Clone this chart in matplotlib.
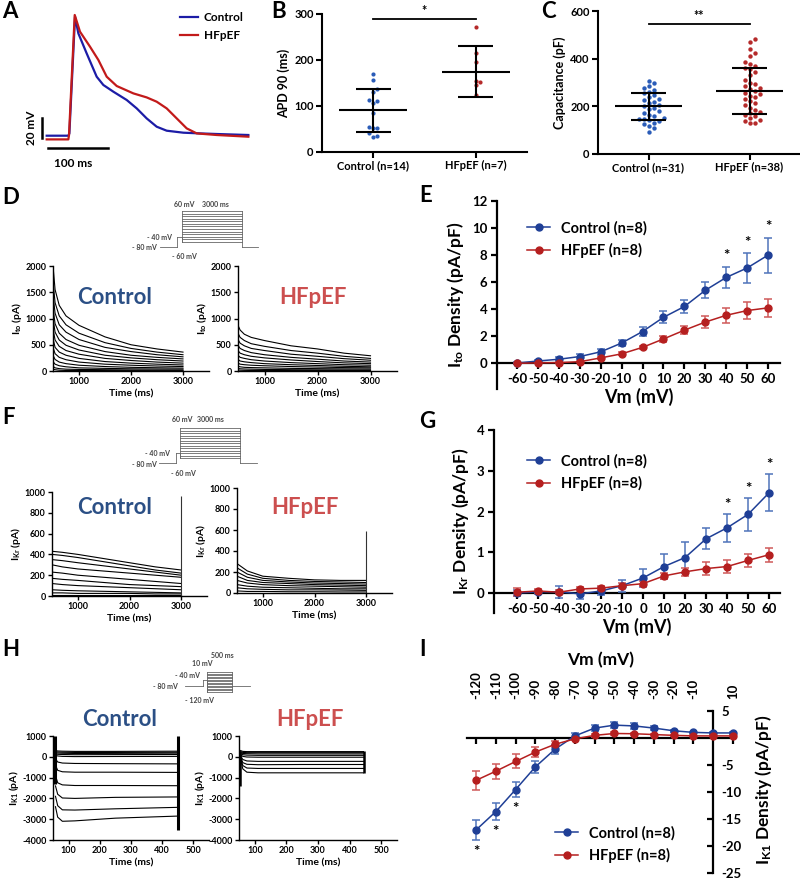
import numpy as np
import matplotlib
matplotlib.use('Agg')
import matplotlib.pyplot as plt
from matplotlib.lines import Line2D

plt.rcParams['font.family'] = ['Lato', 'DejaVu Sans']
plt.rcParams['font.weight'] = 'bold'
plt.rcParams['axes.labelweight'] = 'bold'
plt.rcParams['axes.unicode_minus'] = False
plt.rcParams['mathtext.fontset'] = 'custom'
plt.rcParams['mathtext.rm'] = 'Lato:bold'
plt.rcParams['mathtext.bf'] = 'Lato:bold'
plt.rcParams['mathtext.it'] = 'Lato:bold'

# ---------------- DATA ----------------
# A: action potentials (time ms, voltage mV)
ap_ctrl_t = [0, 35.7, 37.4, 46.7, 52.2, 65.9, 82.4, 93.4, 109.9, 131.9, 148.4, 164.8, 181.3, 197.8, 225.3, 252.7, 280.2, 332.4]
ap_ctrl_v = [-79, -79, -76.7, 40, 23.3, 3.3, -20, -28.3, -35, -43.3, -51.7, -61.7, -70, -74, -76, -76.7, -77.3, -78.3]
ap_hf_t = [0, 35.7, 36.8, 46.2, 54.9, 71.4, 85.2, 98.9, 115.4, 142.9, 164.8, 181.3, 197.8, 214.3, 230.8, 247.3, 280.2, 332.4]
ap_hf_v = [-82.7, -82.7, -78.3, 41.7, 25, 10, -3.3, -20, -29.3, -36.7, -40.7, -45, -51.7, -61.7, -71.7, -76.7, -78.3, -80]

# B: APD90
groups_B = ['Control (n=14)', 'HFpEF (n=7)']
apd_ctrl = [169, 156, 138, 131, 113, 111, 107, 84, 54, 53, 52, 41, 34, 33]
apd_hf = [272, 216, 196, 154, 152, 145, 123]
apd_mean = [91, 175]
apd_sd = [47, 56]

# C: capacitance
groups_C = ['Control (n=31)', 'HFpEF (n=38)']
cap_ctrl = [307, 296, 285, 278, 270, 262, 255, 248, 240, 232, 225, 218, 212, 205, 200, 195, 188, 180,
            172, 165, 160, 152, 148, 145, 142, 138, 132, 125, 118, 108, 92]
cap_hf = [482, 470, 440, 422, 410, 385, 378, 370, 362, 355, 345, 330, 310, 300, 292, 285, 278, 272, 265,
          258, 250, 245, 238, 230, 222, 215, 205, 195, 185, 178, 172, 165, 158, 150, 142, 138, 132, 128]
cap_mean = [200, 265]
cap_sd = [58, 96]

# D: Ito traces (pA) sampled at times (ms)
ito_t = [500, 540, 620, 750, 1000, 1500, 2000, 2500, 3000]
ito_ctrl = [
    [2000, 1550, 1250, 1050, 870, 650, 500, 420, 360],
    [1700, 1300, 1050, 880, 720, 540, 430, 360, 310],
    [1450, 1100, 880, 740, 600, 450, 370, 310, 270],
    [1200, 900, 720, 600, 490, 370, 300, 260, 230],
    [1000, 740, 590, 490, 400, 300, 250, 215, 190],
    [800, 590, 470, 390, 320, 240, 200, 170, 150],
    [620, 450, 360, 300, 240, 180, 150, 130, 115],
    [450, 330, 260, 215, 170, 130, 110, 95, 85],
    [300, 220, 170, 140, 110, 85, 70, 62, 55],
    [180, 130, 100, 80, 60, 50, 42, 38, 35],
    [90, 60, 45, 35, 30, 25, 20, 18, 15],
    [40, 25, 15, 10, 10, 8, 7, 6, 5],
]
ito_hf = [
    [870, 780, 700, 640, 580, 480, 420, 340, 290],
    [720, 640, 580, 520, 470, 390, 340, 280, 240],
    [600, 530, 480, 430, 390, 320, 280, 235, 205],
    [490, 430, 390, 350, 310, 260, 225, 190, 170],
    [390, 340, 310, 280, 250, 210, 180, 155, 140],
    [300, 260, 240, 215, 190, 160, 140, 120, 110],
    [220, 190, 175, 160, 140, 120, 105, 90, 80],
    [150, 130, 120, 110, 100, 85, 75, 65, 60],
    [90, 80, 70, 65, 60, 50, 45, 40, 38],
    [50, 42, 38, 35, 30, 25, 22, 20, 20],
    [20, 15, 12, 10, 10, 8, 8, 8, 8],
]

# E: Ito density
vm_EG = [-60, -50, -40, -30, -20, -10, 0, 10, 20, 30, 40, 50, 60]
ito_ctrl_m = [0.02, 0.17, 0.3, 0.5, 0.85, 1.5, 2.35, 3.4, 4.2, 5.4, 6.35, 7.05, 8.0]
ito_ctrl_e = [0.05, 0.1, 0.15, 0.2, 0.2, 0.25, 0.35, 0.45, 0.5, 0.6, 0.8, 1.1, 1.3]
ito_hf_m = [0.0, 0.03, 0.05, 0.12, 0.4, 0.7, 1.18, 1.8, 2.45, 3.05, 3.55, 3.9, 4.1]
ito_hf_e = [0.03, 0.03, 0.04, 0.05, 0.08, 0.1, 0.12, 0.2, 0.3, 0.45, 0.55, 0.65, 0.65]
E_sig = [40, 50, 60]

# F: IKr traces
ikr_t = [500, 700, 1000, 1500, 2000, 2500, 3000]
ikr_ctrl = [
    [430, 420, 400, 360, 320, 280, 250],
    [400, 390, 370, 330, 290, 250, 220],
    [350, 340, 320, 290, 260, 230, 200],
    [300, 280, 260, 240, 220, 200, 180],
    [230, 220, 200, 180, 160, 140, 120],
    [170, 160, 150, 130, 110, 100, 90],
    [120, 110, 100, 90, 80, 70, 60],
    [60, 55, 50, 45, 40, 35, 30],
    [30, 30, 25, 25, 25, 20, 20],
    [10, 10, 10, 10, 10, 10, 10],
]
ikr_hf = [
    [280, 210, 160, 140, 125, 120, 120],
    [240, 180, 140, 120, 110, 105, 100],
    [200, 150, 120, 105, 95, 90, 85],
    [160, 120, 100, 90, 80, 75, 70],
    [120, 95, 80, 70, 65, 60, 55],
    [80, 65, 55, 50, 45, 40, 40],
    [50, 40, 35, 30, 30, 28, 25],
    [20, 15, 15, 12, 12, 10, 10],
]
ikr_spike_t = 3000
ikr_spike_ctrl = 960
ikr_spike_hf = 590

# G: IKr density
ikr_ctrl_m = [0.0, 0.03, 0.03, -0.02, 0.05, 0.18, 0.37, 0.65, 0.87, 1.33, 1.6, 1.93, 2.46]
ikr_ctrl_e = [0.07, 0.05, 0.15, 0.12, 0.1, 0.15, 0.22, 0.3, 0.38, 0.26, 0.35, 0.4, 0.45]
ikr_hf_m = [0.02, 0.05, 0.02, 0.1, 0.12, 0.18, 0.23, 0.42, 0.52, 0.6, 0.65, 0.8, 0.94]
ikr_hf_e = [0.1, 0.04, 0.05, 0.04, 0.05, 0.06, 0.06, 0.08, 0.1, 0.15, 0.16, 0.16, 0.17]
G_sig = [40, 50, 60]

# H: IK1 traces
ik1_t = [58, 65, 80, 120, 250, 450]
ik1_ctrl = [
    [300, 280, 270, 260, 260, 270],
    [250, 230, 220, 210, 210, 220],
    [200, 180, 170, 160, 165, 175],
    [150, 120, 110, 100, 105, 110],
    [80, 40, 20, 10, 15, 20],
    [-100, -250, -300, -320, -330, -340],
    [-400, -650, -720, -740, -740, -750],
    [-900, -1250, -1350, -1380, -1380, -1390],
    [-1400, -1800, -1980, -2000, -1950, -1930],
    [-1900, -2350, -2550, -2560, -2500, -2430],
    [-2400, -2900, -3100, -3080, -2950, -2850],
]
ik1_hf_t = [55, 62, 75, 110, 250, 444]
ik1_hf = [
    [300, 260, 250, 250, 250, 250],
    [250, 210, 200, 200, 200, 200],
    [200, 160, 150, 140, 140, 140],
    [150, 100, 80, 70, 70, 70],
    [100, 20, -10, -20, -20, -20],
    [50, -130, -200, -220, -220, -220],
    [0, -280, -360, -380, -370, -370],
    [-50, -420, -540, -560, -560, -560],
    [-100, -580, -740, -770, -770, -770],
]
ik1_ctrl_spike_t = [57, 450]
ik1_ctrl_spike_lo = [-1300, -3500]
ik1_ctrl_spike_hi = [1000, 1000]
ik1_hf_spike_t = [53, 444]
ik1_hf_spike_lo = [-1400, -800]
ik1_hf_spike_hi = [300, 300]

# I: IK1 density
vm_I = [-120, -110, -100, -90, -80, -70, -60, -50, -40, -30, -20, -10, 0, 10]
ik1_ctrl_m = [-17.0, -13.6, -9.5, -5.3, -2.0, 0.45, 1.9, 2.45, 2.3, 1.9, 1.4, 1.1, 1.0, 1.0]
ik1_ctrl_e = [1.85, 1.55, 1.3, 1.05, 0.85, 0.45, 0.5, 0.6, 0.55, 0.35, 0.2, 0.15, 0.15, 0.15]
ik1_hf_m = [-7.8, -6.1, -4.3, -2.55, -1.1, -0.1, 0.55, 0.9, 0.85, 0.7, 0.55, 0.45, 0.45, 0.45]
ik1_hf_e = [1.75, 1.4, 1.3, 0.9, 0.6, 0.3, 0.3, 0.35, 0.2, 0.15, 0.1, 0.1, 0.1, 0.1]
I_sig = [-120, -110, -100]

# protocol step levels (mV)
steps_DF = [-60, -50, -40, -30, -20, -10, 0, 10, 20, 30, 40, 50, 60]
steps_H = [-120, -110, -100, -90, -80, -70, -60, -50, -40, -30, -20, -10, 0, 10]

# ---------------- STYLE ----------------
BLUE = '#1f3f96'
BLUE_E = '#4f74bb'
RED = '#b51f1f'
RED_E = '#cf5a5a'
AP_BLUE = '#1c1ca6'
AP_RED = '#c21a1a'
DOT_BLUE = '#2a5cb8'
DOT_RED = '#b52a2a'
TITLE_BLUE = '#2b4f85'
TITLE_RED = '#cc4f4f'

W, H = 800, 882
fig = plt.figure(figsize=(8, 8.82), dpi=100)


def px_axes(l, t, r, b):
    return fig.add_axes([l / W, 1 - b / H, (r - l) / W, (b - t) / H])


def fx(x):
    return x / W


def fy(y):
    return 1 - y / H


for lab, x, y in [('A', 2, 12), ('B', 271, 12), ('C', 541, 12), ('D', 2, 197), ('E', 419, 195),
                  ('F', 2, 418), ('G', 419, 422), ('H', 2, 650), ('I', 419, 650)]:
    fig.text(fx(x), fy(y), lab, fontsize=16, fontweight='bold', va='center', ha='left')

# ---------------- A ----------------
axA = px_axes(20, 5, 260, 175)
axA.axis('off')
axA.set_xlim(-44, 351.6)
axA.set_ylim(-118.3, 51.7)
axA.plot(ap_ctrl_t, ap_ctrl_v, color=AP_BLUE, lw=1.6)
axA.plot(ap_hf_t, ap_hf_v, color=AP_RED, lw=1.6)
axA.plot([-7.3, -7.3], [-81.7, -81.7 + 20], color='k', lw=1.8, clip_on=False)
axA.plot([1.6, 1.6 + 100], [-91.6, -91.6], color='k', lw=1.8, clip_on=False)
axA.text(-24.7, -71.5, '20 mV', rotation=90, ha='center', va='center', fontsize=8.5)
axA.text(43.3, -106.5, '100 ms', ha='center', va='center', fontsize=8.5)
axA.legend([Line2D([], [], color=AP_BLUE, lw=1.6), Line2D([], [], color=AP_RED, lw=1.6)],
           ['Control', 'HFpEF'], loc='upper left', bbox_to_anchor=(fx(180), fy(12)),
           bbox_transform=fig.transFigure, frameon=False, fontsize=8.5, handlelength=1.5,
           handletextpad=0.5, labelspacing=0.6, borderpad=0, borderaxespad=0)


# ---------------- B, C ----------------
def swarm(vals, ypx, xpx, dot):
    vals = np.asarray(vals, float)
    order = np.argsort(vals)
    placed = []
    off = np.zeros(len(vals))
    for i in order:
        y = vals[i] * ypx
        k = 0
        while True:
            cand = 0 if k == 0 else ((k + 1) // 2) * dot * (1 if k % 2 else -1)
            if all((cand - px) ** 2 + (y - py) ** 2 >= dot ** 2 for py, px in placed):
                break
            k += 1
        placed.append((y, cand))
        off[i] = cand / xpx
    return off


def dotplot(ax, groups, data, means, sds, ylim, yticks, ylabel, ypx, dot, ms, sigy, sigtxt):
    ax.set_xlim(-0.5, 1.5)
    ax.set_ylim(*ylim)
    for s in ['top', 'right']:
        ax.spines[s].set_visible(False)
    for s in ['left', 'bottom']:
        ax.spines[s].set_linewidth(1.5)
    xpx = ax.get_position().width * W / 2.0
    for i, (vals, col) in enumerate(zip(data, [DOT_BLUE, DOT_RED])):
        off = swarm(vals, ypx, xpx, dot)
        ax.scatter(i + off, vals, s=ms, color=col, zorder=3, linewidths=0)
        m, sd = means[i], sds[i]
        ax.hlines(m, i - 0.33, i + 0.33, color='k', lw=1.5, zorder=4)
        ax.vlines(i, m - sd, m + sd, color='k', lw=1.5, zorder=4)
        ax.hlines([m - sd, m + sd], i - 0.17, i + 0.17, color='k', lw=1.5, zorder=4)
    ax.set_xticks([0, 1])
    ax.set_xticklabels(groups)
    ax.set_yticks(yticks)
    ax.tick_params(labelsize=8, width=1.5, length=4, pad=2)
    ax.set_ylabel(ylabel, fontsize=9, labelpad=3)
    ax.plot([0, 1], [sigy, sigy], color='k', lw=1.3, clip_on=False)
    ax.text(0.5, sigy + (ylim[1] - ylim[0]) * 0.012, sigtxt, ha='center', va='bottom', fontsize=9)


axB = px_axes(322, 14, 527, 152)
dotplot(axB, groups_B, [apd_ctrl, apd_hf], apd_mean, apd_sd, (0, 300), [0, 100, 200, 300],
        'APD 90 (ms)', 138 / 300, 4.0, 9, 289, '*')
axC = px_axes(598, 11, 800, 154)
dotplot(axC, groups_C, [cap_ctrl, cap_hf], cap_mean, cap_sd, (0, 600), [0, 200, 400, 600],
        'Capacitance (pF)', 143 / 600, 5.0, 10, 545, '**')


# ---------------- protocols ----------------
def protocol(rect, xl, yl, hold, pre, step, post, v_hold, v_pre, levels, texts):
    ax = px_axes(*rect)
    ax.axis('off')
    ax.set_xlim(*xl)
    ax.set_ylim(*yl)
    c = '#666666'
    lw = 0.6
    ax.plot([hold, pre], [v_hold, v_hold], color=c, lw=lw)
    ax.plot([pre, pre], [v_hold, v_pre], color=c, lw=lw)
    ax.plot([pre, step[0]], [v_pre, v_pre], color=c, lw=lw)
    ax.plot([step[0], step[0]], [min(levels), max(levels)], color=c, lw=lw)
    ax.plot([step[0], step[0]], [v_pre, min(levels)], color=c, lw=lw)
    for v in levels:
        ax.plot([step[0], step[1]], [v, v], color=c, lw=lw)
    ax.plot([step[1], step[1]], [min(min(levels), v_hold), max(levels)], color=c, lw=lw)
    ax.plot([step[1], post], [v_hold, v_hold], color=c, lw=lw)
    for txt, x, y, ha in texts:
        ax.text(x, y, txt, ha=ha, va='center', fontsize=5, color='#444444')


protocol((120, 195, 275, 265), (-3100, 4650), (-149.3, 122), -1100, -250, (0, 3000), 3800, -80, -40,
         steps_DF, [('60 mV', -400, 87, 'left'), ('3000 ms', 1000, 87, 'left'),
                    ('- 40 mV', -500, -40.8, 'right'), ('- 80 mV', -1250, -83, 'right'),
                    ('- 60 mV', 100, -118, 'center')])
protocol((120, 412, 275, 480), (-3000, 4750), (-148, 124), -1050, -200, (0, 3000), 3850, -80, -40,
         steps_DF, [('60 mV', -400, 96, 'left'), ('3000 ms', 850, 96, 'left'),
                    ('- 40 mV', -500, -40, 'right'), ('- 80 mV', -1150, -84, 'right'),
                    ('- 60 mV', 150, -120, 'center')])
protocol((140, 648, 260, 708), (-1340, 1060), (-223.8, 165.8), -440, -80, (0, 500), 860, -80, -40,
         steps_H, [('500 ms', 300, 120, 'center'), ('10 mV', -100, 68, 'center'),
                   ('- 40 mV', -140, -16, 'right'), ('- 80 mV', -580, -87, 'right'),
                   ('- 120 mV', -140, -178, 'center')])


# ---------------- traces ----------------
def trace_axes(rect, t, traces, xlim, ylim, xticks, yticks, ylabel, title, tcol, tpos):
    ax = px_axes(*rect)
    for row in traces:
        ax.plot(t, row, color='k', lw=0.8)
    ax.set_xlim(*xlim)
    ax.set_ylim(*ylim)
    for s in ['top', 'right']:
        ax.spines[s].set_visible(False)
    for s in ['left', 'bottom']:
        ax.spines[s].set_linewidth(1.0)
    ax.set_xticks(xticks)
    ax.set_yticks(yticks)
    ax.tick_params(labelsize=6.5, width=1, length=3, pad=1.5)
    ax.set_xlabel('Time (ms)', fontsize=7.5, labelpad=2)
    ax.set_ylabel(ylabel, fontsize=7.5, labelpad=1)
    fig.text(fx(tpos[0]), fy(tpos[1]), title, color=tcol, fontsize=16, fontweight='bold',
             ha='center', va='center')
    return ax


axD1 = trace_axes((53, 266, 209, 371), ito_t, ito_ctrl, (500, 3500), (0, 2000), [1000, 2000, 3000],
                  [0, 500, 1000, 1500, 2000], r'I$_{to}$ (pA)', 'Control', TITLE_BLUE, (115, 297))
axD2 = trace_axes((238, 266, 397, 371), ito_t, ito_hf, (500, 3500), (0, 2000), [1000, 2000, 3000],
                  [0, 500, 1000, 1500, 2000], r'I$_{to}$ (pA)', 'HFpEF', TITLE_RED, (313, 297))
axF1 = trace_axes((52, 492, 207, 596), ikr_t, ikr_ctrl, (500, 3500), (0, 1000), [1000, 2000, 3000],
                  [0, 200, 400, 600, 800, 1000], r'I$_{Kr}$ (pA)', 'Control', TITLE_BLUE, (115, 508))
axF1.vlines(ikr_spike_t, 0, ikr_spike_ctrl, color='#333333', lw=0.8)
axF2 = trace_axes((237, 488, 392, 593), ikr_t, ikr_hf, (500, 3500), (0, 1000), [1000, 2000, 3000],
                  [0, 200, 400, 600, 800, 1000], r'I$_{Kr}$ (pA)', 'HFpEF', TITLE_RED, (305, 507))
axF2.vlines(ikr_spike_t, 0, ikr_spike_hf, color='#333333', lw=0.8)
axH1 = trace_axes((53, 736, 209, 840), ik1_t, ik1_ctrl, (50, 550), (-4000, 1000), [100, 200, 300, 400, 500],
                  [-4000, -3000, -2000, -1000, 0, 1000], r'I$_{K1}$ (pA)', 'Control', TITLE_BLUE, (120, 720))
axH1.vlines(ik1_ctrl_spike_t, ik1_ctrl_spike_lo, ik1_ctrl_spike_hi, color='k', lw=2.2)
axH2 = trace_axes((239, 736, 397, 840), ik1_hf_t, ik1_hf, (50, 550), (-4000, 1000), [100, 200, 300, 400, 500],
                  [-4000, -3000, -2000, -1000, 0, 1000], r'I$_{K1}$ (pA)', 'HFpEF', TITLE_RED, (310, 720))
axH2.vlines(ik1_hf_spike_t, ik1_hf_spike_lo, ik1_hf_spike_hi, color='k', lw=1.8)


# ---------------- IV curves ----------------
def iv_series(ax, vm, m, e, col, ecol):
    ax.errorbar(vm, m, yerr=e, color=col, ecolor=ecol, marker='o', ms=5, lw=1.1, elinewidth=1.1,
                capsize=3, capthick=1.1, zorder=3, clip_on=False)


def iv_legend(ax, x, y, fs=10.5):
    h = [Line2D([], [], color=BLUE, marker='o', ms=5, lw=1.1), Line2D([], [], color=RED, marker='o', ms=5, lw=1.1)]
    ax.legend(h, ['Control (n=8)', 'HFpEF (n=8)'], loc='upper left', bbox_to_anchor=(fx(x), fy(y)),
              bbox_transform=fig.transFigure, frameon=False, fontsize=fs, handlelength=1.6,
              handletextpad=0.7, labelspacing=0.5, borderpad=0, borderaxespad=0)


def iv_axes(rect, xlim, ylim, yticks, m_c, e_c, m_h, e_h, ylabel, sig, star_off):
    ax = px_axes(*rect)
    ax.set_xlim(*xlim)
    ax.set_ylim(*ylim)
    for s in ['top', 'right']:
        ax.spines[s].set_visible(False)
    ax.spines['bottom'].set_position(('data', 0))
    for s in ['left', 'bottom']:
        ax.spines[s].set_linewidth(1.6)
    iv_series(ax, vm_EG, m_c, e_c, BLUE, BLUE_E)
    iv_series(ax, vm_EG, m_h, e_h, RED, RED_E)
    ax.set_xticks(vm_EG)
    ax.set_yticks(yticks)
    ax.tick_params(labelsize=9.5, width=1.6, length=4, pad=3)
    ax.set_xlabel('Vm (mV)', fontsize=13, labelpad=2)
    ax.set_ylabel(ylabel, fontsize=12.5, labelpad=4)
    for v in sig:
        i = vm_EG.index(v)
        ax.text(v, m_c[i] + e_c[i] + star_off, '*', ha='center', va='center', fontsize=11)
    return ax


axE = iv_axes((497, 201, 780, 389), (-69.6, 65.7), (-1.9, 12), [0, 2, 4, 6, 8, 10, 12],
              ito_ctrl_m, ito_ctrl_e, ito_hf_m, ito_hf_e, r'I$_{to}$ Density (pA/pF)', E_sig, 0.75)
iv_legend(axE, 527, 221)
axG = iv_axes((494, 430, 780, 613), (-70.95, 65.2), (-0.49, 4), [0, 1, 2, 3, 4],
              ikr_ctrl_m, ikr_ctrl_e, ikr_hf_m, ikr_hf_e, r'I$_{Kr}$ Density (pA/pF)', G_sig, 0.22)
iv_legend(axG, 527, 454)

axI = px_axes(467, 706, 735, 873)
axI.set_xlim(-124.6, 11)
axI.set_ylim(-25, 6.0)
axI.spines['left'].set_visible(False)
axI.spines['top'].set_visible(False)
axI.spines['right'].set_position(('data', 0))
axI.spines['right'].set_bounds(-25, 5)
axI.spines['bottom'].set_position(('data', 0))
for s in ['right', 'bottom']:
    axI.spines[s].set_linewidth(1.6)
iv_series(axI, vm_I, ik1_ctrl_m, ik1_ctrl_e, BLUE, BLUE_E)
iv_series(axI, vm_I, ik1_hf_m, ik1_hf_e, RED, RED_E)
axI.yaxis.tick_right()
axI.set_yticks([5, -5, -10, -15, -20, -25])
axI.tick_params(axis='y', direction='in', labelsize=9.5, width=1.6, length=4, pad=6)
xt = [v for v in vm_I if v != 0]
axI.set_xticks(xt)
axI.set_xticklabels([str(v) for v in xt])
axI.tick_params(axis='x', bottom=True, top=False, labelbottom=False, labeltop=True, direction='out',
                labelsize=9.5, width=1.6, length=4, pad=1, labelrotation=90)
axI.xaxis.set_label_position('top')
axI.set_xlabel('Vm (mV)', fontsize=12.5, labelpad=4)
axI.yaxis.set_label_position('right')
axI.set_ylabel(r'I$_{K1}$ Density (pA/pF)', fontsize=12.5, labelpad=8)
for v in I_sig:
    i = vm_I.index(v)
    axI.text(v, ik1_ctrl_m[i] - ik1_ctrl_e[i] - 2.3, '*', ha='center', va='center', fontsize=11)
iv_legend(axI, 555, 826)

fig.savefig('out.png', dpi=100)
